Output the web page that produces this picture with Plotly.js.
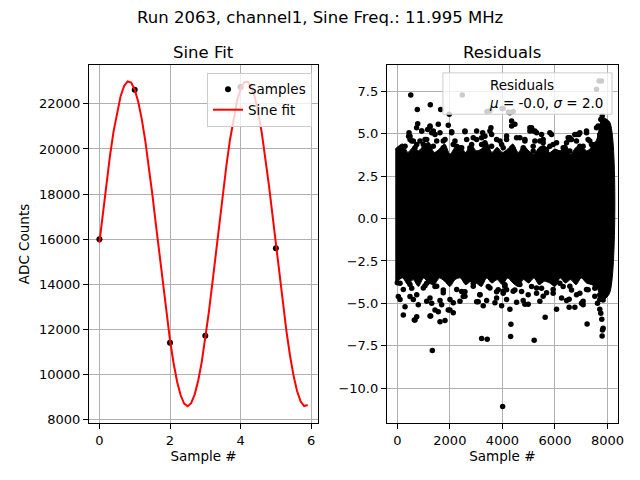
<!DOCTYPE html>
<html>
<head>
<meta charset="utf-8">
<script src="https://cdn.plot.ly/plotly-3.0.1.min.js"></script>
<style>
  html, body { margin: 0; padding: 0; background: #fff; }
  #plot { width: 640px; height: 480px; }
</style>
</head>
<body>
<div id="plot"></div>
<script>
// Sine fit panel: the ADC samples and the fitted curve
const sampleIdx = [0, 1, 2, 3, 4, 5];
const sampleAdc = [16000, 22620, 11420, 11730, 22750, 15600];

const fitX = [0.0, 0.1, 0.2, 0.3, 0.4, 0.5, 0.6, 0.7, 0.8, 0.9,
              1.0, 1.1, 1.2, 1.3, 1.4, 1.5, 1.6, 1.7, 1.8, 1.9,
              2.0, 2.1, 2.2, 2.3, 2.4, 2.5, 2.6, 2.7, 2.8, 2.9,
              3.0, 3.1, 3.2, 3.3, 3.4, 3.5, 3.6, 3.7, 3.8, 3.9,
              4.0, 4.1, 4.2, 4.3, 4.4, 4.5, 4.6, 4.7, 4.8, 4.9,
              5.0, 5.1, 5.2, 5.3, 5.4, 5.5, 5.6, 5.7, 5.8, 5.9];
const fitY = [15850, 17200, 18500, 19700, 20770, 21650, 22340, 22790, 22990, 22940,
              22630, 22090, 21320, 20360, 19230, 17990, 16660, 15310, 13970, 12700,
              11530, 10530, 9700, 9100, 8720, 8600, 8740, 9130, 9740, 10570,
              11580, 12760, 14050, 15380, 16740, 18050, 19290, 20410, 21370, 22130,
              22660, 22950, 22980, 22770, 22310, 21610, 20720, 19640, 18430, 17120,
              15780, 14430, 13130, 11920, 10850, 9960, 9280, 8820, 8610, 8660];

// Residuals panel: the solid core is drawn as its visible envelope,
// the points around and outside it are listed one by one
const bandX = [-80, 200, 400, 600, 800, 1000, 1200, 1400, 1600, 1800, 2000,
               2200, 2400, 2600, 2800, 3000, 3200, 3400, 3600, 3800, 4000,
               4200, 4400, 4600, 4800, 5000, 5200, 5400, 5600, 5800, 6000,
               6200, 6400, 6600, 6800, 7000, 7200, 7400, 7600, 7800, 8080];
const bandUpper = [4.1, 4.4, 3.9, 4.2, 4.0, 4.3, 4.5, 3.9, 4.1, 4.4, 3.8,
                   4.2, 4.3, 3.9, 4.4, 4.0, 4.1, 4.5, 3.9, 4.2, 3.9,
                   4.1, 4.4, 3.9, 4.3, 4.0, 3.8, 4.2, 4.3, 3.9, 4.1,
                   4.0, 4.4, 3.8, 4.2, 4.3, 4.0, 4.2, 4.7, 5.9, 5.7];
const bandLower = [-3.8, -3.5, -3.9, -3.6, -4.0, -3.5, -3.8, -3.9, -3.5, -3.7, -4.0,
                   -3.6, -3.5, -3.9, -3.7, -3.8, -4.0, -3.5, -3.8, -3.6, -3.9,
                   -3.5, -3.8, -4.0, -3.6, -3.8, -3.5, -3.9, -3.7, -3.8, -4.0,
                   -3.5, -3.8, -3.6, -3.9, -3.5, -3.8, -3.9, -4.1, -4.8, -4.4];

const residX = [
  // above the core
  510, 2471, 760, 1255, 1650, 1977, 3411, 3992, 775, 1243, 1559, 1939, 2574, 2890,
  3247, 3563, 445, 483, 928, 1433, 2068, 7681, 7772, 7582, 4030, 4285, 4411, 4475,
  4350, 5110, 5300, 5871, 6757, 6947, 7202, 7643, 7897, 4160, 4665, 5551, 6567,
  7392, 7707, 3525, 4232, 5236, 6502, 6631, 6909, 7745, 7800,
  430, 547, 738, 1053, 1156, 1308, 1749, 2129, 2449, 2829, 3209, 3335, 3589, 3905,
  4856, 5046, 5171, 5426, 5806, 6061, 6312, 6821, 7072, 7262, 7517,
  734, 928, 1243, 1369, 1624, 2068, 2574, 3019, 3525, 483, 608, 863, 1118, 1498,
  1814, 2194, 2639, 3019, 3335, 3779, 293, 673, 989, 1369, 1749, 2259, 2764, 3209,
  3589, 3970, 4350, 5046, 5171, 5490, 5806, 6567, 6821, 7202, 7582, 4160, 4540,
  4856, 5236, 5551, 5932, 6441, 6947, 7327, 7707, 4030, 4411, 4791, 5171, 5681,
  6122, 6567, 7011, 7452, 7833,
  // below the core
  3209, 3422, 228, 673, 738, 1243, 1624, 1814, 1559, 1939, 2129, 293, 798, 1308,
  1688, 2129, 2510, 3019, 3270, 3715, 3970, 38, 483, 1053, 2449, 3840, 1331, 4312,
  5209, 4008, 4323, 5627, 7224, 7795, 7833, 7810, 7783, 7745, 7707, 6061, 6540,
  6757, 4285, 646, 1270, 1433, 2004, 4855, 4981, 3080, 7072, 4540, 6540, 7011,
  7620, 5300, 5681, 5932, 6312, 7262, 4730, 4030, 4160,
  103, 547, 1118, 1433, 1749, 2574, 2890, 3144, 3460, 3779, 4095, 4475, 5110,
  5490, 6186, 6631, 6947, 7517, 7707, 7833,
  0, 228, 483, 738, 989, 1243, 1498, 1749, 2004, 2259, 2574, 2890, 3144, 3525,
  3779, 4030, 103, 608, 1118, 1624, 2384, 3399, 4095, 4411, 4665, 4981, 5300,
  5551, 5932, 6251, 6567, 6821, 7202, 7517, 7772, 4160, 4791, 5426, 6441, 7072, 7707
];
const residY = [
  7.29, 7.29, 6.44, 6.72, 6.44, 6.15, 6.31, 6.50, 5.60, 5.40, 5.56, 5.50, 5.12, 4.77,
  5.06, 5.36, 5.06, 4.67, 5.16, 4.96, 5.06, 8.12, 8.12, 7.63, 6.50, 6.25, 6.31, 5.56,
  5.75, 5.36, 5.06, 4.96, 4.96, 5.06, 5.06, 5.46, 5.75, 4.87, 4.77, 4.67, 4.67,
  4.37, 4.96, 6.34, 6.28, 5.16, 4.77, 4.67, 4.96, 5.85, 6.05,
  4.86, 4.57, 4.37, 4.67, 5.26, 5.06, 4.57, 4.37, 4.18, 4.37, 4.77, 4.47, 4.96, 4.57,
  4.57, 5.16, 4.27, 4.57, 4.27, 4.47, 4.18, 4.57, 4.27, 4.67, 4.37,
  5.36, 5.16, 5.46, 5.16, 5.06, 5.12, 5.16, 5.16, 5.16, 4.86, 4.57, 4.57, 4.67, 4.57,
  4.67, 4.57, 4.67, 4.67, 4.86, 4.67, 4.27, 4.18, 4.37, 4.27, 4.18, 4.27, 4.18, 4.37,
  4.27, 4.37, 5.46, 5.36, 5.16, 4.96, 5.06, 4.77, 4.96, 5.16, 5.36, 4.67, 4.77,
  4.67, 4.57, 4.47, 4.37, 4.47, 4.27, 4.57, 4.77, 4.18, 4.08, 4.18, 3.98, 4.08,
  3.88, 3.98, 4.08, 4.18, 4.08,
  -7.07, -7.12, -5.69, -5.98, -5.79, -5.75, -6.08, -6.02, -5.49, -5.39, -5.55, -5.20, -5.09, -4.99,
  -5.09, -4.96, -4.60, -4.90, -5.15, -4.96, -5.15, -4.60, -4.60, -3.97, -4.30, -4.20, -7.78, -6.95,
  -7.18, -11.09, -6.24, -5.82, -6.22, -6.93, -6.47, -6.57, -5.94, -5.59, -5.35, -5.35, -5.23,
  -5.23, -5.35, -5.98, -5.75, -5.39, -5.39, -5.05, -5.05, -4.90, -5.09, -4.93, -4.76, -4.99,
  -4.99, -4.40, -4.37, -4.40, -4.01, -4.20, -4.30, -4.40, -4.20,
  -3.81, -4.11, -3.81, -4.01, -4.21, -4.31, -3.81, -4.50, -4.01, -4.31, -3.91, -4.21, -4.01,
  -4.11, -3.81, -4.21, -4.40, -4.11, -4.50, -4.80,
  -3.79, -4.19, -3.89, -4.49, -4.09, -4.68, -3.99, -4.38, -4.78, -4.19, -4.58, -3.99, -4.49, -4.09,
  -4.68, -4.29, -4.78, -4.78, -4.88, -4.84, -4.88, -4.84, -3.99, -4.29, -3.89, -4.49, -4.09,
  -4.58, -4.19, -4.68, -3.99, -4.49, -4.19, -4.58, -4.09, -4.78, -4.84, -4.88, -4.84, -4.88, -4.78
];

const residMu = '-0.0';
const residSigma = '2.0';

// Envelope polygon: along the top edge, then back along the bottom edge
const bandPolyX = bandX.concat(bandX.slice().reverse());
const bandPolyY = bandUpper.concat(bandLower.slice().reverse());

const FONT = 'DejaVu Sans, Liberation Sans, sans-serif';
const GRID = '#b0b0b0';

const traces = [
  {
    x: sampleIdx, y: sampleAdc, type: 'scatter', mode: 'markers', name: 'Samples',
    marker: { color: '#000000', size: 6 }, xaxis: 'x', yaxis: 'y'
  },
  {
    x: fitX, y: fitY, type: 'scatter', mode: 'lines', name: 'Sine fit',
    line: { color: '#ff0000', width: 2 }, xaxis: 'x', yaxis: 'y'
  },
  {
    x: bandPolyX, y: bandPolyY, type: 'scatter', mode: 'lines', fill: 'toself',
    fillcolor: '#000000', line: { color: '#000000', width: 1, shape: 'spline', smoothing: 0.8 },
    showlegend: false, hoverinfo: 'skip', xaxis: 'x2', yaxis: 'y2'
  },
  {
    x: residX, y: residY, type: 'scatter', mode: 'markers',
    marker: { color: '#000000', size: 5.5 }, showlegend: false,
    xaxis: 'x2', yaxis: 'y2'
  }
];

function axisStyle(extra) {
  return Object.assign({
    showgrid: true, gridcolor: GRID, gridwidth: 1,
    showline: true, linecolor: '#000000', linewidth: 1, mirror: true,
    ticks: 'outside', ticklen: 5, tickwidth: 1, tickcolor: '#000000',
    zeroline: false, tickfont: { family: FONT, size: 13, color: '#000000' }
  }, extra);
}

const layout = {
  width: 640, height: 480,
  margin: { l: 89, r: 22, t: 65, b: 57 },
  paper_bgcolor: '#ffffff', plot_bgcolor: '#ffffff',
  font: { family: FONT, size: 13, color: '#000000' },
  showlegend: true,
  legend: {
    x: 0.4216, y: 0.978, xanchor: 'right', yanchor: 'top',
    bgcolor: 'rgba(255,255,255,0.8)', bordercolor: '#cccccc', borderwidth: 1,
    font: { family: FONT, size: 13.5, color: '#000000' }, itemwidth: 30
  },
  xaxis: axisStyle({
    domain: [0, 0.433], range: [-0.295, 6.195], dtick: 2, tick0: 0,
    title: { text: 'Sample #', font: { family: FONT, size: 13.5 }, standoff: 4 }
  }),
  yaxis: axisStyle({
    range: [7860, 23720], dtick: 2000, tick0: 0, tickformat: 'd',
    title: { text: 'ADC Counts', font: { family: FONT, size: 13.5 }, standoff: 6 }
  }),
  xaxis2: axisStyle({
    domain: [0.563, 1], range: [-400, 8400], dtick: 2000, tick0: 0, anchor: 'y2',
    title: { text: 'Sample #', font: { family: FONT, size: 13.5 }, standoff: 4 }
  }),
  yaxis2: axisStyle({
    range: [-12.06, 9.06], dtick: 2.5, tick0: 0, tickformat: '.1f', anchor: 'x2'
  }),
  shapes: [
    {
      // legend frame of the residuals panel (label only, no handle)
      type: 'rect', xref: 'paper', yref: 'paper', layer: 'above',
      x0: 0.669, x1: 0.9887, y0: 0.8625, y1: 0.978,
      fillcolor: 'rgba(255,255,255,0.8)', line: { color: '#cccccc', width: 1 }
    }
  ],
  annotations: [
    {
      text: 'Run 2063, channel1, Sine Freq.: 11.995 MHz', xref: 'paper', yref: 'paper',
      x: 0.436, y: 1.134, xanchor: 'center', yanchor: 'middle', showarrow: false,
      font: { family: FONT, size: 16.5 }
    },
    {
      text: 'Sine Fit', xref: 'paper', yref: 'paper', x: 0.2165, y: 1.036,
      xanchor: 'center', yanchor: 'middle', showarrow: false,
      font: { family: FONT, size: 16.5 }
    },
    {
      text: 'Residuals', xref: 'paper', yref: 'paper', x: 0.7815, y: 1.036,
      xanchor: 'center', yanchor: 'middle', showarrow: false,
      font: { family: FONT, size: 16.5 }
    },
    {
      text: 'Residuals<br><i>μ</i> = ' + residMu + ', <i>σ</i> = ' + residSigma,
      xref: 'paper', yref: 'paper', x: 0.7524, y: 0.972, xanchor: 'left', yanchor: 'top',
      align: 'left', showarrow: false, font: { family: FONT, size: 13.5 }
    }
  ]
};

Plotly.newPlot('plot', traces, layout, { staticPlot: true });
</script>
</body>
</html>
